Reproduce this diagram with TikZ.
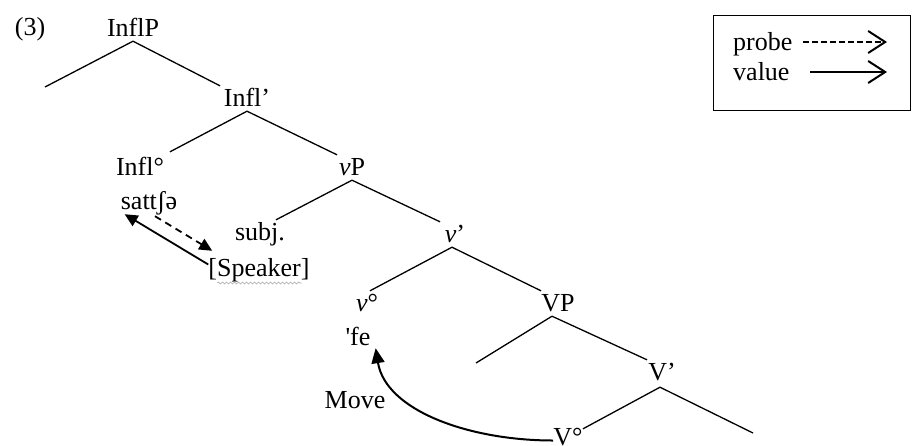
\documentclass[tikz,border=0pt]{standalone}
\usepackage{fontspec}
\setmainfont{Liberation Serif}
\usetikzlibrary{arrows.meta,decorations.pathmorphing}
\begin{document}
\begin{tikzpicture}[x=1pt,y=-1pt,
  font=\fontsize{26}{31}\selectfont,
  tn/.style={inner sep=0pt,text height=20pt,text depth=5pt,anchor=base},
  br/.style={line width=1.3pt},
  tipf/.style={-{Triangle[length=13pt,width=12pt]}},
  legarr/.style={line width=2pt,-{Straight Barb[length=17pt,width=22pt,line width=2pt]}}]
\useasboundingbox (0,0) rectangle (912,445);

% labels
\node[tn] (ex) at (30,35) {(3)};
\node[tn] (InflP) at (133,36) {InflP};
\node[tn] (Inflbar) at (247,106) {Infl’};
\node[tn] (Inflo) at (140,175) {Infl°};
\node[tn] (vP) at (352,175) {\textit{v}P};
\node[tn] (satt) at (149,209) {sattʃə};
\node[tn] (subj) at (260,240) {subj.};
\node[tn] (vbar) at (455,242) {\textit{v}’};
\node[tn] (Speaker) at (259,276) {[Speaker]};
\node[tn] (vo) at (367,311) {\textit{v}°};
\node[tn] (VP) at (558,311) {VP};
\node[tn] (fe) at (358,345) {{\addfontfeatures{Ligatures=TeXOff}'}fe};
\node[tn] (Vbar) at (662,380) {V’};
\node[tn] (Vo) at (568,445) {V°};
\node[tn] (move) at (355,408) {Move};

% free branch ends
\coordinate (ipl) at (45,87);
\coordinate (vpl) at (476,363);
\coordinate (vbr) at (753,433);

% tree branches
\draw[br] (InflP.south) -- (ipl);
\draw[br] (InflP.south) -- ([xshift=-27pt]Inflbar.north);
\draw[br] (Inflbar.south) -- ([xshift=30pt,yshift=3pt]Inflo.north);
\draw[br] (Inflbar.south) -- ([xshift=-15pt]vP.north);
\draw[br] (vP.south) -- ([xshift=16pt]subj.north);
\draw[br] (vP.south) -- ([xshift=-15pt]vbar.north);
\draw[br] ([xshift=-3pt]vbar.south) -- ([xshift=3pt]vo.north);
\draw[br] ([xshift=-3pt]vbar.south) -- ([xshift=-17pt]VP.north);
\draw[br] ([xshift=-6pt]VP.south) -- (vpl);
\draw[br] ([xshift=-6pt]VP.south) -- ([xshift=-15pt]Vbar.north);
\draw[br] ([xshift=-2pt,yshift=-2pt]Vbar.south) -- ([xshift=15pt,yshift=-4pt]Vo.north);
\draw[br] ([xshift=-2pt,yshift=-2pt]Vbar.south) -- (vbr);

% agree arrows
\draw[line width=1.8pt,tipf] ([yshift=4pt]Speaker.west) -- ([xshift=4pt]satt.south west);
\draw[line width=1.8pt,dash pattern=on 7pt off 5pt,tipf] ([xshift=6pt,yshift=-2pt]satt.south) -- ([xshift=4pt,yshift=5pt]Speaker.north west);

% spell-check wavy underline
\draw[gray!70,line width=0.6pt,decorate,decoration={snake,amplitude=1pt,segment length=4pt}]
  ([xshift=9pt,yshift=-7pt]Speaker.base west) -- ([xshift=-8pt,yshift=-7pt]Speaker.base east);

% move
\draw[line width=2pt,-{Triangle[length=15pt,width=13pt]}]
  ([yshift=-3pt]Vo.west) .. controls +(-85,0) and +(10,62) .. ([xshift=5pt,yshift=2pt]fe.south east);

% legend
\node[draw,line width=1.2pt,inner sep=0pt,minimum width=197pt,minimum height=95pt,anchor=north west] (legend) at (713,15) {};
\node[inner sep=0pt,text height=20pt,text depth=5pt,anchor=base west] (probe) at (733,50) {probe};
\node[inner sep=0pt,text height=20pt,text depth=5pt,anchor=base west] (value) at (733,80) {value};
\coordinate (pa1) at (803,42);
\coordinate (pa2) at (887,42);
\coordinate (va1) at (810,72);
\coordinate (va2) at (887,72);
\draw[legarr,dash pattern=on 6pt off 3pt] (pa1) -- (pa2);
\draw[legarr] (va1) -- (va2);
\end{tikzpicture}
\end{document}
